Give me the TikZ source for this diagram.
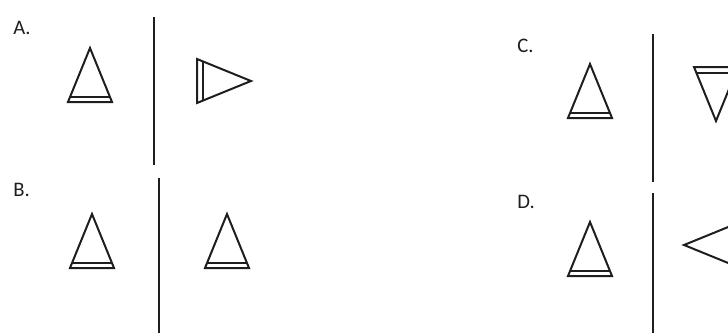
\documentclass[tikz,border=0pt]{standalone}
\usepackage{fontspec}
\setmainfont{Carlito}
\usepackage{tikz}
\usetikzlibrary{positioning}
\definecolor{inkdark}{HTML}{1E1E1E}

\begin{document}
\begin{tikzpicture}[
      x=0.75pt, y=0.75pt,
      every node/.style={font=\fontsize{15.5}{18}\selectfont, text=inkdark},
      optlabel/.style={anchor=base west, inner sep=0pt},
      mirror/.style={draw=inkdark, line width=1.6pt},
      figline/.style={draw=inkdark, line width=1.5pt, line join=miter},
      cone/.pic={
        % triangle with a doubled base, apex up in local coordinates
        \draw[figline] (0,54) -- (-22,0) -- (22,0) -- cycle;
        \draw[figline] (-19.8,5.5) -- (19.8,5.5);
      }
    ]
      \useasboundingbox (0,0) rectangle (728,333);
      \clip (0,0) rectangle (728,333);

      % option labels
      \node[optlabel] (la) at (13,299) {A.};
      \node[optlabel] (lb) at (13,137) {B.};
      \node[optlabel] (lc) at (517,281) {C.};
      \node[optlabel] (ld) at (517,125) {D.};

      % mirror lines
      \draw[mirror] (154,316) -- (154,168);
      \draw[mirror] (159,155) -- (159,0);
      \draw[mirror] (653,299) -- (653,151);
      \draw[mirror] (653,140) -- (653,0);

      % option A
      \pic (aL) at (90,231) {cone};
      \pic[rotate=-90] (aR) at (197,252) {cone};
      % option B
      \pic (bL) at (92,65) {cone};
      \pic (bR) at (227,65) {cone};
      % option C
      \pic (cL) at (590,215) {cone};
      \pic[rotate=180] (cR) at (716,266) {cone};
      % option D
      \pic (dL) at (590,57) {cone};
      \pic[rotate=90] (dR) at (738,88) {cone};
    \end{tikzpicture}
\end{document}
